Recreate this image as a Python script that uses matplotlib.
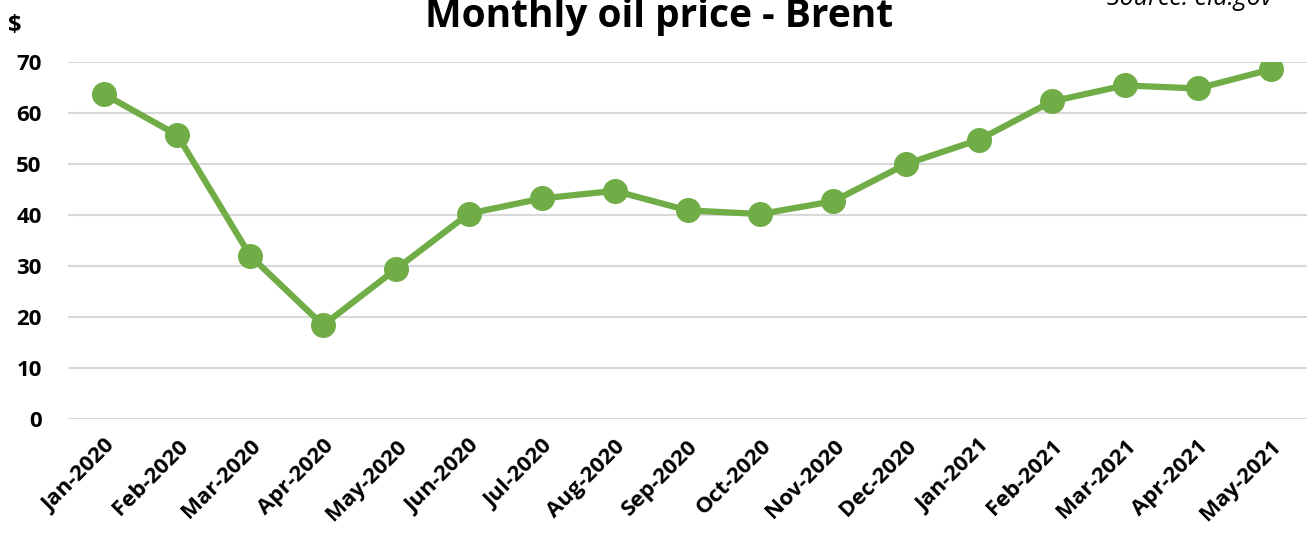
import matplotlib.pyplot as plt

months = ['Jan-2020', 'Feb-2020', 'Mar-2020', 'Apr-2020', 'May-2020', 'Jun-2020',
          'Jul-2020', 'Aug-2020', 'Sep-2020', 'Oct-2020', 'Nov-2020', 'Dec-2020',
          'Jan-2021', 'Feb-2021', 'Mar-2021', 'Apr-2021', 'May-2021']
brent = [63.65, 55.66, 32.01, 18.38, 29.38, 40.27, 43.24, 44.74, 40.91, 40.19,
         42.69, 49.99, 54.77, 62.28, 65.41, 64.81, 68.53]
yticks = [0, 10, 20, 30, 40, 50, 60, 70]

plt.rcParams['font.family'] = ['Open Sans', 'DejaVu Sans']

fig = plt.figure(figsize=(13.16, 5.35), dpi=100)
ax = fig.add_axes([68 / 1316, 1 - 419 / 535, (1307 - 68) / 1316, (419 - 62) / 535])

x = list(range(len(months)))
ax.plot(x, brent, color='#70AD47', linewidth=4.5, marker='o', markersize=17,
        solid_capstyle='round', zorder=3)

ax.set_xlim(-0.5, len(months) - 0.5)
ax.set_ylim(0, 70)
ax.set_yticks(yticks)
ax.set_xticks(x)
ax.set_xticklabels(months, rotation=45, ha='right', rotation_mode='anchor')
ax.tick_params(axis='both', length=0)
ax.tick_params(axis='y', pad=19, labelsize=16)
ax.tick_params(axis='x', pad=12, labelsize=16)
for lab in ax.get_xticklabels() + ax.get_yticklabels():
    lab.set_fontweight('bold')

ax.grid(axis='y', color='#D9D9D9', linewidth=1.5, zorder=0)
ax.set_axisbelow(True)
for s in ax.spines.values():
    s.set_visible(False)

fig.text(659 / 1316, 1 - 27 / 535, 'Monthly oil price - Brent', ha='center',
         fontsize=28, fontweight='bold')
fig.text(1272 / 1316, 1 - 5 / 535, 'Source: eia.gov', ha='right',
         fontsize=18, style='italic')
fig.text(15 / 1316, 1 - 32 / 535, '$', ha='center', fontsize=17, fontweight='bold')

fig.savefig('out.png', dpi=100)
